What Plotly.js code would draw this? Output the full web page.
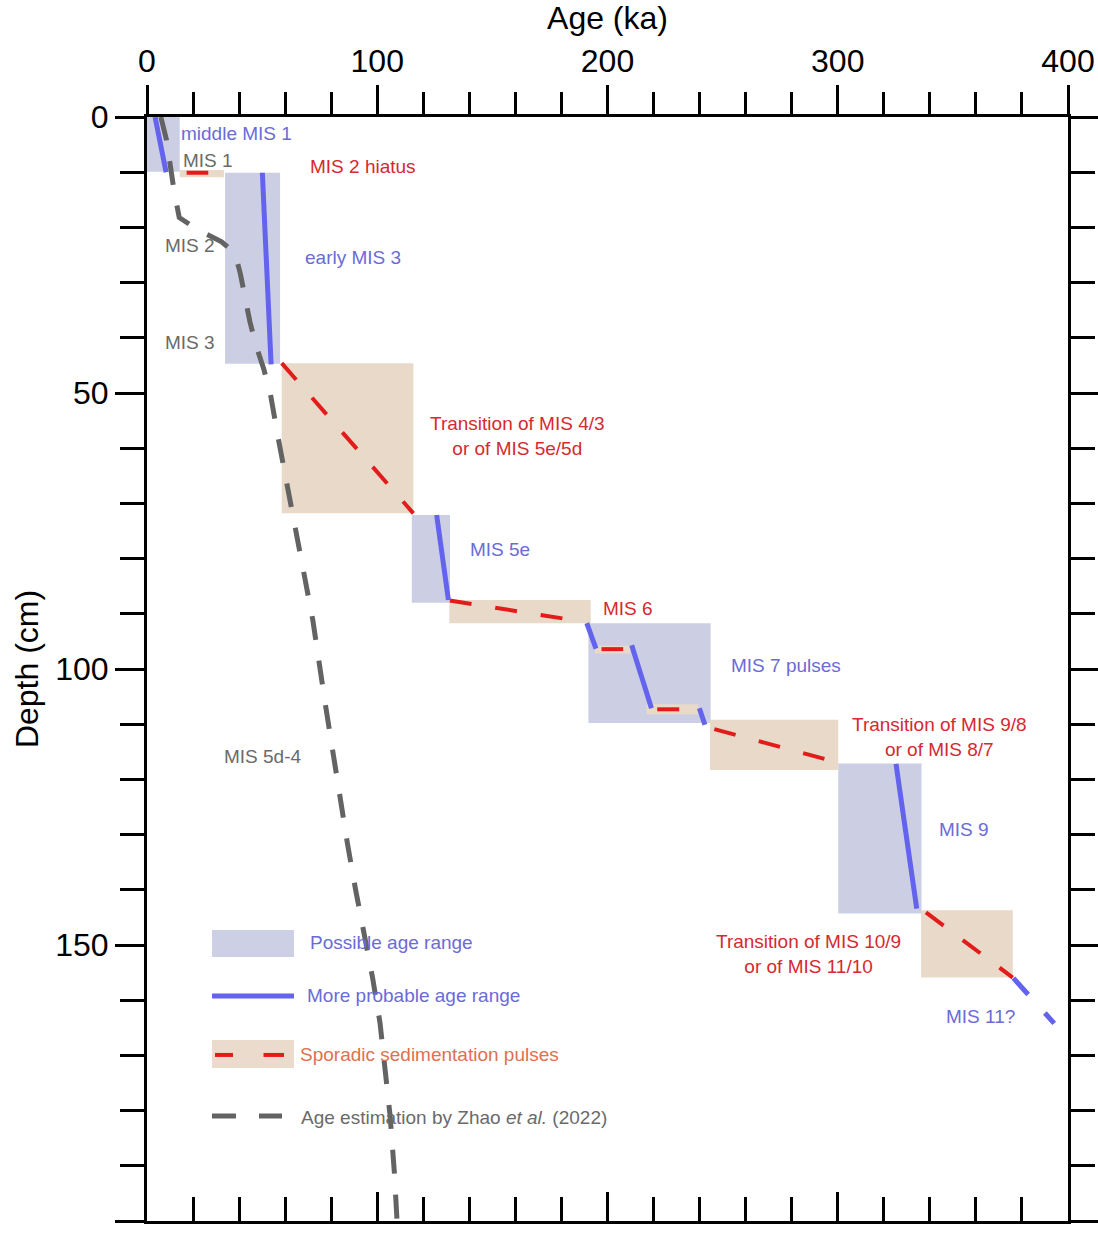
<!DOCTYPE html>
<html>
<head>
<meta charset="utf-8">
<script src="https://cdn.plot.ly/plotly-3.0.1.min.js"></script>
<style>
  html, body { margin: 0; padding: 0; background: #ffffff; }
  #chart { width: 1098px; height: 1235px; }
</style>
</head>
<body>
<div id="chart"></div>
<script>
// ---------------- DATA ----------------
// Possible age range (blue boxes)
const blueBoxAgeFrom   = [0,    33.9, 115.0, 191.7, 300.2];
const blueBoxAgeTo     = [14.2, 57.8, 131.6, 244.8, 336.4];
const blueBoxDepthTop  = [0,    10.1, 72.1,  91.7,  117.1];
const blueBoxDepthBot  = [9.9,  44.7, 88.0,  109.8, 144.3];

// Sporadic sedimentation pulses (tan boxes)
const tanBoxAgeFrom    = [14.2, 58.5,  131.3, 194.6, 217.0, 244.5, 336.2];
const tanBoxAgeTo      = [33.4, 115.7, 192.7, 209.8, 239.5, 300.2, 376.0];
const tanBoxDepthTop   = [9.6,  44.6,  87.5,  95.8,  106.4, 109.2, 143.7];
const tanBoxDepthBot   = [10.9, 71.8,  91.7,  97.2,  108.2, 118.3, 155.9];

// More probable age range (blue solid segments): start/end age & depth
const probAgeStart   = [3.5, 50.1, 125.8, 191.0, 210.5, 239.9, 325.3];
const probAgeEnd     = [8.3, 53.9, 130.9, 195.0, 219.1, 242.3, 334.3];
const probDepthStart = [0,   10.1, 72.1,  91.7,  95.7,  107.1, 117.2];
const probDepthEnd   = [10,  44.8, 87.5,  96.3,  107.1, 110.1, 143.4];

// MIS 11? (blue dashed)
const mis11Age   = [376.3, 394.0];
const mis11Depth = [156.0, 164.2];

// Sporadic pulses (red dashed segments)
const pulseAgeStart   = [17.2, 58.5,  131.5, 197.4, 221.6, 246.4, 338.3];
const pulseAgeEnd     = [26.6, 115.7, 190.5, 206.8, 231.2, 295.2, 376.0];
const pulseDepthStart = [10.1, 44.6,  87.6,  96.4,  107.3, 110.9, 144.1];
const pulseDepthEnd   = [10.1, 71.8,  91.5,  96.4,  107.3, 116.4, 155.9];

// Age estimation by Zhao et al. (2022)
const zhaoAge   = [6, 8.5, 11.8, 14, 21.5, 32.4, 38.2, 40.5, 44.7, 47.3, 50.8, 53.4, 56.9, 60.6, 64.3, 68.2, 72, 77.5, 80.5, 83.6, 87.0, 90.6, 94.1, 98, 101.2, 103.5, 105.6, 107.4, 108.6];
const zhaoDepth = [0, 4.2, 13.5, 18.2, 20.3, 22.6, 24.7, 28.3, 37.1, 41.3, 45.8, 49.7, 58, 66, 74.5, 82.7, 91.1, 106.5, 114.5, 123.2, 131.5, 140, 147.5, 156, 164.1, 172.8, 181, 191, 200];

const ageTickVals   = [0, 100, 200, 300, 400];
const depthTickVals = [0, 50, 100, 150, 200];

// ---------------- HELPERS ----------------
function rectPaths(x0s, x1s, y0s, y1s) {
  const xs = [], ys = [];
  for (let i = 0; i < x0s.length; i++) {
    xs.push(x0s[i], x1s[i], x1s[i], x0s[i], x0s[i], null);
    ys.push(y0s[i], y0s[i], y1s[i], y1s[i], y0s[i], null);
  }
  return {x: xs, y: ys};
}
function segPaths(xa, xb, ya, yb) {
  const xs = [], ys = [];
  for (let i = 0; i < xa.length; i++) {
    xs.push(xa[i], xb[i], null);
    ys.push(ya[i], yb[i], null);
  }
  return {x: xs, y: ys};
}

const FONT = 'Liberation Sans, Arial, Helvetica, sans-serif';
const BLUE_LINE = '#6363ee';
const BLUE_TEXT = '#6b6bd8';
const RED_LINE = '#e21b1b';
const RED_TEXT = '#d42a30';
const GRAY_LINE = '#636363';
const GRAY_TEXT = '#6a6a6a';

const bb = rectPaths(blueBoxAgeFrom, blueBoxAgeTo, blueBoxDepthTop, blueBoxDepthBot);
const tb = rectPaths(tanBoxAgeFrom, tanBoxAgeTo, tanBoxDepthTop, tanBoxDepthBot);
const pr = segPaths(probAgeStart, probAgeEnd, probDepthStart, probDepthEnd);
const pu = segPaths(pulseAgeStart, pulseAgeEnd, pulseDepthStart, pulseDepthEnd);

const traces = [
  {x: bb.x, y: bb.y, type: 'scatter', mode: 'lines', fill: 'toself',
   line: {width: 0, color: 'rgba(0,0,0,0)'}, fillcolor: '#dadced',
   fillpattern: {shape: '|', size: 2, solidity: 0.5, fgcolor: '#b8bcd9', bgcolor: '#e0e2ef'},
   hoverinfo: 'skip', connectgaps: false},
  {x: tb.x, y: tb.y, type: 'scatter', mode: 'lines', fill: 'toself',
   line: {width: 0, color: 'rgba(0,0,0,0)'}, fillcolor: '#f0e2d4',
   fillpattern: {shape: '|', size: 2, solidity: 0.5, fgcolor: '#dfc9b5', bgcolor: '#f4e9de'},
   hoverinfo: 'skip', connectgaps: false},
  {x: zhaoAge, y: zhaoDepth, type: 'scatter', mode: 'lines', xaxis: 'x2', yaxis: 'y2',
   line: {color: GRAY_LINE, width: 5, dash: '24px,21px'}, hoverinfo: 'skip'},
  {x: pu.x, y: pu.y, type: 'scatter', mode: 'lines', connectgaps: false, xaxis: 'x2', yaxis: 'y2',
   line: {color: RED_LINE, width: 4, dash: '22px,24px'}, hoverinfo: 'skip'},
  {x: pr.x, y: pr.y, type: 'scatter', mode: 'lines', connectgaps: false, xaxis: 'x2', yaxis: 'y2',
   line: {color: BLUE_LINE, width: 5}, hoverinfo: 'skip'},
  {x: mis11Age, y: mis11Depth, type: 'scatter', mode: 'lines', xaxis: 'x2', yaxis: 'y2',
   line: {color: BLUE_LINE, width: 5, dash: '22px,25px'}, hoverinfo: 'skip'}
];

function ann(text, x, y, color, xanchor) {
  return {text: text, x: x, y: y, xref: 'x', yref: 'y', showarrow: false,
          xanchor: xanchor || 'center', yanchor: 'middle', align: 'center',
          font: {family: FONT, size: 19, color: color}};
}
function pann(text, x, y, color) {
  return {text: text, x: x, y: y, xref: 'paper', yref: 'paper', showarrow: false,
          xanchor: 'left', yanchor: 'middle', align: 'left',
          font: {family: FONT, size: 19, color: color}};
}

const annotations = [
  ann('middle MIS 1', 14.0, 2.9, BLUE_TEXT, 'left'),
  ann('MIS 1', 14.6, 7.8, GRAY_TEXT, 'left'),
  ann('MIS 2 hiatus', 93.8, 8.9, RED_TEXT),
  ann('early MIS 3', 89.5, 25.4, BLUE_TEXT),
  ann('MIS 2', 18.7, 23.2, GRAY_TEXT),
  ann('MIS 3', 18.7, 40.8, GRAY_TEXT),
  ann('Transition of MIS 4/3<br>or of MIS 5e/5d', 160.7, 57.8, RED_TEXT),
  ann('MIS 5e', 153.3, 78.4, BLUE_TEXT),
  ann('MIS 6', 208.9, 89.1, RED_TEXT),
  ann('MIS 7 pulses', 277.5, 99.3, BLUE_TEXT),
  ann('Transition of MIS 9/8<br>or of MIS 8/7', 344.4, 112.3, RED_TEXT),
  ann('MIS 5d-4', 50.4, 115.8, GRAY_TEXT),
  ann('MIS 9', 354.8, 129.0, BLUE_TEXT),
  ann('Transition of MIS 10/9<br>or of MIS 11/10', 287.5, 151.6, RED_TEXT),
  ann('MIS 11?', 361.8, 162.9, BLUE_TEXT),
  pann('Possible age range', 0.175, 0.2527, BLUE_TEXT),
  pann('More probable age range', 0.1717, 0.2047, BLUE_TEXT),
  pann('Sporadic sedimentation pulses', 0.1641, 0.1504, '#e07050'),
  pann('Age estimation by Zhao <i>et al.</i> (2022)', 0.1652, 0.0942, GRAY_TEXT)
];

// legend samples (paper coordinates)
const shapes = [
  {type: 'rect', xref: 'paper', yref: 'paper', x0: 0.0706, x1: 0.1596, y0: 0.2391, y1: 0.2636,
   fillcolor: '#cdd0e4', line: {width: 0}, layer: 'above'},
  {type: 'line', xref: 'paper', yref: 'paper', x0: 0.0706, x1: 0.1596, y0: 0.2038, y1: 0.2038,
   line: {color: BLUE_LINE, width: 5}, layer: 'above'},
  {type: 'rect', xref: 'paper', yref: 'paper', x0: 0.0706, x1: 0.1596, y0: 0.1386, y1: 0.1639,
   fillcolor: '#eadbcd', line: {width: 0}, layer: 'above'},
  {type: 'line', xref: 'paper', yref: 'paper', x0: 0.0738, x1: 0.0934, y0: 0.1504, y1: 0.1504,
   line: {color: RED_LINE, width: 4}, layer: 'above'},
  {type: 'line', xref: 'paper', yref: 'paper', x0: 0.1265, x1: 0.1488, y0: 0.1504, y1: 0.1504,
   line: {color: RED_LINE, width: 4}, layer: 'above'},
  {type: 'line', xref: 'paper', yref: 'paper', x0: 0.0706, x1: 0.0966, y0: 0.0951, y1: 0.0951,
   line: {color: GRAY_LINE, width: 5}, layer: 'above'},
  {type: 'line', xref: 'paper', yref: 'paper', x0: 0.1216, x1: 0.1466, y0: 0.0951, y1: 0.0951,
   line: {color: GRAY_LINE, width: 5}, layer: 'above'}
];

const axisCommon = {
  showline: true, linewidth: 3, linecolor: '#000000',
  showgrid: false, zeroline: false, tickwidth: 3, tickcolor: '#000000',
  tickfont: {family: FONT, size: 32, color: '#000000'}
};

const layout = {
  width: 1098, height: 1235,
  margin: {l: 147, r: 30, t: 117, b: 14, pad: 0},
  paper_bgcolor: '#ffffff', plot_bgcolor: '#ffffff',
  showlegend: false,
  font: {family: FONT, color: '#000000'},
  xaxis: Object.assign({}, axisCommon, {
    side: 'top', range: [0, 400], tickmode: 'array', tickvals: ageTickVals,
    ticks: 'outside', ticklen: 29,
    minor: {dtick: 20, tick0: 0, ticks: 'outside', ticklen: 22, tickwidth: 3, tickcolor: '#000000', showgrid: false},
    title: {text: 'Age (ka)', font: {family: FONT, size: 32, color: '#000000'}, standoff: 6},
    automargin: false
  }),
  xaxis2: Object.assign({}, axisCommon, {
    overlaying: 'x', anchor: 'y', side: 'bottom', range: [0, 400],
    tickmode: 'array', tickvals: ageTickVals, ticks: 'inside', ticklen: 29,
    showticklabels: false,
    minor: {dtick: 20, tick0: 0, ticks: 'inside', ticklen: 24, tickwidth: 3, tickcolor: '#000000', showgrid: false},
    automargin: false
  }),
  yaxis: Object.assign({}, axisCommon, {
    range: [200, 0], tickmode: 'array', tickvals: depthTickVals,
    ticks: 'outside', ticklen: 29,
    minor: {dtick: 10, tick0: 0, ticks: 'outside', ticklen: 24, tickwidth: 3, tickcolor: '#000000', showgrid: false},
    title: {text: 'Depth (cm)', font: {family: FONT, size: 32, color: '#000000'}, standoff: 8},
    automargin: false
  }),
  yaxis2: Object.assign({}, axisCommon, {
    overlaying: 'y', anchor: 'x', side: 'right', range: [200, 0],
    tickmode: 'array', tickvals: depthTickVals, ticks: 'outside', ticklen: 28,
    showticklabels: false,
    minor: {dtick: 10, tick0: 0, ticks: 'outside', ticklen: 24, tickwidth: 3, tickcolor: '#000000', showgrid: false},
    automargin: false
  }),
  annotations: annotations,
  shapes: shapes
};

Plotly.newPlot('chart', traces, layout, {staticPlot: true, displayModeBar: false});
</script>
</body>
</html>
